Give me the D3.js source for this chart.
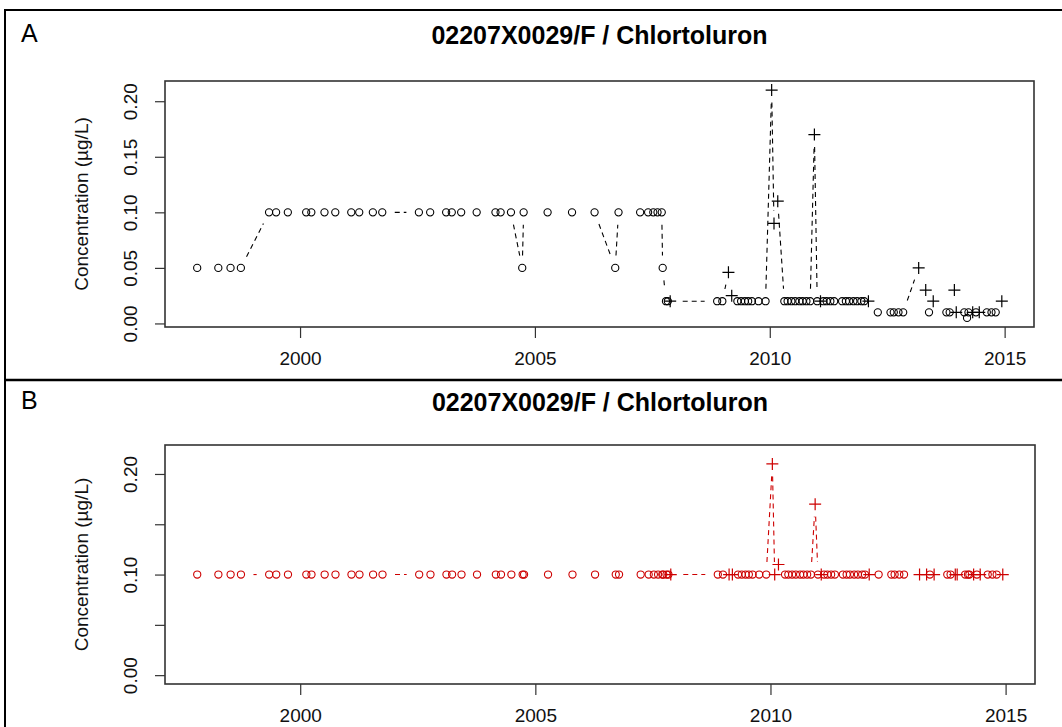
<!DOCTYPE html>
<html>
<head>
<meta charset="utf-8">
<script src="https://cdn.jsdelivr.net/npm/d3@7/dist/d3.min.js"></script>
<style>
body { margin: 0; background: #fff; }
text { font-family: "Liberation Sans", Arial, sans-serif; }
</style>
</head>
<body>
<svg id="fig" width="1062" height="727"></svg>
<script>
// sampling dates (decimal years)
var dates = [
  1997.81, 1998.26, 1998.52, 1998.74, 1999.34, 1999.49, 1999.74, 2000.13, 2000.24, 2000.52,
  2000.75, 2001.09, 2001.26, 2001.55, 2001.75, 2002.53, 2002.77, 2003.11, 2003.23, 2003.43,
  2003.76, 2004.16, 2004.27, 2004.49, 2004.73, 2004.76, 2005.27, 2005.79, 2006.27, 2006.71,
  2006.78, 2007.24, 2007.41, 2007.52, 2007.61, 2007.70, 2007.72, 2007.79, 2007.83, 2007.88,
  2008.88, 2008.99, 2009.12, 2009.19, 2009.31, 2009.39, 2009.47, 2009.54, 2009.62, 2009.76,
  2009.91, 2010.04, 2010.09, 2010.17, 2010.31, 2010.38, 2010.46, 2010.54, 2010.63, 2010.70,
  2010.78, 2010.86, 2010.95, 2011.01, 2011.08, 2011.14, 2011.21, 2011.29, 2011.37, 2011.54,
  2011.62, 2011.69, 2011.78, 2011.86, 2011.95, 2012.01, 2012.10, 2012.30, 2012.57, 2012.64,
  2012.74, 2012.84, 2013.17, 2013.32, 2013.39, 2013.48, 2013.76, 2013.83, 2013.93, 2013.97,
  2014.14, 2014.20, 2014.23, 2014.32, 2014.39, 2014.46, 2014.62, 2014.72, 2014.81, 2014.94
];

// "o" = not quantified, "+" = quantified
var marks = [
  "o","o","o","o","o","o","o","o","o","o",
  "o","o","o","o","o","o","o","o","o","o",
  "o","o","o","o","o","o","o","o","o","o",
  "o","o","o","o","o","o","o","o","o","+",
  "o","o","+","+","o","o","o","o","o","o",
  "o","+","+","+","o","o","o","o","o","o",
  "o","o","+","o","+","o","o","o","o","o",
  "o","o","o","o","o","o","+","o","o","o",
  "o","o","+","+","o","+","o","o","+","+",
  "o","o","o","+","o","+","o","o","o","+"
];

// panel A : raw concentrations (µg/L)
var valuesA = [
  0.05, 0.05, 0.05, 0.05, 0.10, 0.10, 0.10, 0.10, 0.10, 0.10,
  0.10, 0.10, 0.10, 0.10, 0.10, 0.10, 0.10, 0.10, 0.10, 0.10,
  0.10, 0.10, 0.10, 0.10, 0.05, 0.10, 0.10, 0.10, 0.10, 0.05,
  0.10, 0.10, 0.10, 0.10, 0.10, 0.10, 0.05, 0.02, 0.02, 0.02,
  0.02, 0.02, 0.046, 0.025, 0.02, 0.02, 0.02, 0.02, 0.02, 0.02,
  0.02, 0.21, 0.09, 0.11, 0.02, 0.02, 0.02, 0.02, 0.02, 0.02,
  0.02, 0.02, 0.17, 0.02, 0.02, 0.02, 0.02, 0.02, 0.02, 0.02,
  0.02, 0.02, 0.02, 0.02, 0.02, 0.02, 0.02, 0.01, 0.01, 0.01,
  0.01, 0.01, 0.05, 0.03, 0.01, 0.02, 0.01, 0.01, 0.03, 0.01,
  0.01, 0.005, 0.01, 0.01, 0.01, 0.01, 0.01, 0.01, 0.01, 0.02
];

// panel B : values set to 0.1 unless quantified above it
var valuesB = [
  0.10, 0.10, 0.10, 0.10, 0.10, 0.10, 0.10, 0.10, 0.10, 0.10,
  0.10, 0.10, 0.10, 0.10, 0.10, 0.10, 0.10, 0.10, 0.10, 0.10,
  0.10, 0.10, 0.10, 0.10, 0.10, 0.10, 0.10, 0.10, 0.10, 0.10,
  0.10, 0.10, 0.10, 0.10, 0.10, 0.10, 0.10, 0.10, 0.10, 0.10,
  0.10, 0.10, 0.10, 0.10, 0.10, 0.10, 0.10, 0.10, 0.10, 0.10,
  0.10, 0.21, 0.10, 0.11, 0.10, 0.10, 0.10, 0.10, 0.10, 0.10,
  0.10, 0.10, 0.17, 0.10, 0.10, 0.10, 0.10, 0.10, 0.10, 0.10,
  0.10, 0.10, 0.10, 0.10, 0.10, 0.10, 0.10, 0.10, 0.10, 0.10,
  0.10, 0.10, 0.10, 0.10, 0.10, 0.10, 0.10, 0.10, 0.10, 0.10,
  0.10, 0.10, 0.10, 0.10, 0.10, 0.10, 0.10, 0.10, 0.10, 0.10
];

var xTicks = [2000, 2005, 2010, 2015];
var yTicks = [0, 0.05, 0.10, 0.15, 0.20];
var yLabelsA = ["0.00", "0.05", "0.10", "0.15", "0.20"];
var yLabelsB = ["0.00", "", "0.10", "", "0.20"];
var yLimB = [0, 0.22];
var chartTitle = "02207X0029/F / Chlortoluron";
var yTitle = "Concentration (µg/L)";

var svg = d3.select("#fig");
var W = 1062, H = 727;

// frame: top, left and the line between the panels
svg.append("path").attr("d", "M5," + H + "V10H" + W)
  .attr("fill", "none").attr("stroke", "#000").attr("stroke-width", 2);
svg.append("line").attr("x1", 5).attr("x2", W).attr("y1", 380).attr("y2", 380)
  .attr("stroke", "#000").attr("stroke-width", 2.5);

// R style range padding (4%)
function pad(ext) {
  var r = ext[1] - ext[0];
  return [ext[0] - 0.04 * r, ext[1] + 0.04 * r];
}

// type = "b": segments stop short of the points
function gapSegments(pts, d) {
  var segs = [];
  for (var i = 0; i < pts.length - 1; i++) {
    var dx = pts[i + 1][0] - pts[i][0], dy = pts[i + 1][1] - pts[i][1];
    var f = Math.sqrt(dx * dx + dy * dy);
    if (f > 2 * d) {
      segs.push([pts[i][0] + d * dx / f, pts[i][1] + d * dy / f,
                 pts[i + 1][0] - d * dx / f, pts[i + 1][1] - d * dy / f]);
    }
  }
  return segs;
}

function drawPanel(p) {
  var g = svg.append("g");
  var x = d3.scaleLinear().domain(pad(d3.extent(dates))).range([p.left, p.right]);
  var y = d3.scaleLinear().domain(pad(p.yLim)).range([p.bottom, p.top]);

  g.append("text").text(p.letter)
    .attr("x", 21).attr("y", p.titleY - 2)
    .attr("font-size", "25px").attr("fill", "#000");

  g.append("text").text(chartTitle)
    .attr("x", (p.left + p.right) / 2).attr("y", p.titleY)
    .attr("text-anchor", "middle").attr("font-weight", "bold")
    .attr("font-size", "25px").attr("fill", "#000");

  // x axis
  var xa = g.append("g").attr("transform", "translate(0," + p.bottom + ")")
    .call(d3.axisBottom(x).tickValues(xTicks).tickSize(11).tickPadding(14).tickFormat(d3.format("d")));
  xa.select(".domain").remove();
  xa.selectAll("line").attr("stroke", "#333").attr("stroke-width", 1.2);
  xa.selectAll("text").attr("font-size", "19px").attr("fill", "#111").attr("font-family", null);

  // y axis, labels parallel to the axis
  var ya = g.append("g").attr("transform", "translate(" + p.left + ",0)")
    .call(d3.axisLeft(y).tickValues(yTicks).tickSize(10)
      .tickFormat(function(d, i) { return p.yLabels[i]; }));
  ya.select(".domain").remove();
  ya.selectAll("line").attr("stroke", "#333").attr("stroke-width", 1.2);
  ya.selectAll("text")
    .attr("transform", "rotate(-90)")
    .attr("x", 0).attr("y", -28).attr("dy", 0)
    .attr("text-anchor", "middle")
    .attr("font-size", "19px").attr("fill", "#111").attr("font-family", null);

  g.append("text").text(yTitle)
    .attr("transform", "translate(88," + ((p.top + p.bottom) / 2) + ") rotate(-90)")
    .attr("text-anchor", "middle").attr("font-size", "19px").attr("fill", "#111");

  // box
  g.append("rect").attr("x", p.left).attr("y", p.top)
    .attr("width", p.right - p.left).attr("height", p.bottom - p.top)
    .attr("fill", "none").attr("stroke", "#333").attr("stroke-width", 1.6);

  var pts = dates.map(function(d, i) { return [x(d), y(p.values[i])]; });

  g.selectAll("line.seg").data(gapSegments(pts, 12.5)).enter().append("line")
    .attr("class", "seg")
    .attr("x1", function(s) { return s[0]; }).attr("y1", function(s) { return s[1]; })
    .attr("x2", function(s) { return s[2]; }).attr("y2", function(s) { return s[3]; })
    .attr("stroke", p.color).attr("stroke-width", 1.1).attr("stroke-dasharray", "5,4");

  var idx = d3.range(dates.length);
  g.selectAll("circle.pt").data(idx.filter(function(i) { return marks[i] === "o"; }))
    .enter().append("circle").attr("class", "pt")
    .attr("cx", function(i) { return pts[i][0]; })
    .attr("cy", function(i) { return pts[i][1]; })
    .attr("r", 3.6).attr("fill", "none").attr("stroke", p.color).attr("stroke-width", 1.1);

  g.selectAll("path.plus").data(idx.filter(function(i) { return marks[i] === "+"; }))
    .enter().append("path").attr("class", "plus")
    .attr("d", function(i) {
      var cx = pts[i][0], cy = pts[i][1];
      return "M" + (cx - 6) + "," + cy + "H" + (cx + 6) + "M" + cx + "," + (cy - 6) + "V" + (cy + 6);
    })
    .attr("stroke", p.color).attr("stroke-width", 1.2).attr("fill", "none");
}

drawPanel({ letter: "A", top: 81, bottom: 327, left: 165, right: 1034, titleY: 44,
  values: valuesA, yLim: d3.extent(valuesA), yLabels: yLabelsA, color: "#000" });
drawPanel({ letter: "B", top: 445, bottom: 684, left: 165, right: 1035, titleY: 411,
  values: valuesB, yLim: yLimB, yLabels: yLabelsB, color: "#cd0000" });
</script>
</body>
</html>
